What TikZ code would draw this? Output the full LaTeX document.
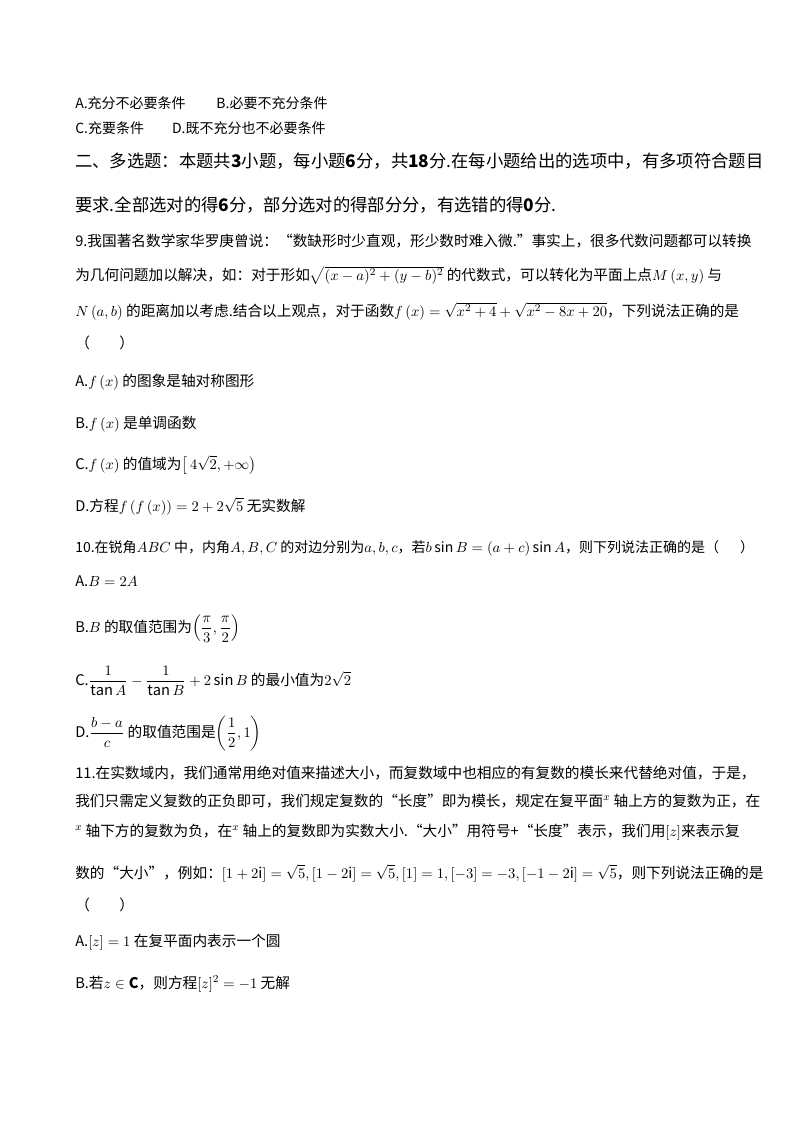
\documentclass[tikz,border=0pt]{standalone}
\usepackage{amsmath,amssymb}
\usepackage{fontspec}
\setmainfont{Noto Sans CJK SC}
\begin{document}
\begin{tikzpicture}[x=0.75pt,y=-0.75pt,
  t/.style={anchor=base west,inner sep=0pt,font=\fontsize{10.5pt}{12pt}\selectfont},
  h/.style={anchor=base west,inner sep=0pt,font=\fontsize{13pt}{15pt}\selectfont},
  q/.style={anchor=base west,inner sep=0pt,font=\fontsize{11pt}{13pt}\selectfont}]
\useasboundingbox (0,0) rectangle (800,1132);
\node[t] (l1) at (75,108) {A.充分不必要条件\hspace{2.2em}B.必要不充分条件};
\node[t] (l2) at (75,133) {C.充要条件\hspace{2em}D.既不充分也不必要条件};
\node[h] (l3) at (75,167) {二、多选题：本题共\textbf{3}小题，每小题\textbf{6}分，共\textbf{18}分.在每小题给出的选项中，有多项符合题目};
\node[h] (l4) at (75,211) {要求.全部选对的得\textbf{6}分，部分选对的得部分分，有选错的得\textbf{0}分.};
\node[q] (l5) at (75,246) {9.我国著名数学家华罗庚曾说：“数缺形时少直观，形少数时难入微.”事实上，很多代数问题都可以转换};
\node[q] (l6) at (75,280) {为几何问题加以解决，如：对于形如$\sqrt{(x-a)^2+(y-b)^2}$ 的代数式，可以转化为平面上点$M\left(x,y\right)$ 与};
\node[q] (l7) at (75,316) {$N\left(a,b\right)$ 的距离加以考虑.结合以上观点，对于函数$f\left(x\right)=\sqrt{x^2+4}+\sqrt{x^2-8x+20}$，下列说法正确的是};
\node[q] (l8) at (75,348) {（\hspace{2em}）};
\node[q] (a9) at (75,386) {A.$f\left(x\right)$ 的图象是轴对称图形};
\node[q] (b9) at (75,428) {B.$f\left(x\right)$ 是单调函数};
\node[q] (c9) at (75,469) {C.$f\left(x\right)$ 的值域为$\left[\,4\sqrt{2},+\infty\right)$};
\node[q] (d9) at (75,511) {D.方程$f\left(f\left(x\right)\right)=2+2\sqrt{5}$ 无实数解};
\node[t] (l10) at (75,552) {10.在锐角$ABC$ 中，内角$A,B,C$ 的对边分别为$a,b,c$，若$b\sin B=\left(a+c\right)\sin A$，则下列说法正确的是（\hspace{1.5em}）};
\node[q] (a10) at (75,586) {A.$B=2A$};
\node[q] (b10) at (75,632) {B.$B$ 的取值范围为$\left(\dfrac{\pi}{3},\dfrac{\pi}{2}\right)$};
\node[q] (c10) at (75,685) {C.$\dfrac{1}{\tan A}-\dfrac{1}{\tan B}+2\sin B$ 的最小值为$2\sqrt{2}$};
\node[q] (d10) at (75,737) {D.$\dfrac{b-a}{c}$ 的取值范围是$\left(\dfrac{1}{2},1\right)$};
\node[q] (l11) at (75,778) {11.在实数域内，我们通常用绝对值来描述大小，而复数域中也相应的有复数的模长来代替绝对值，于是，};
\node[q] (l12) at (75,806) {我们只需定义复数的正负即可，我们规定复数的“长度”即为模长，规定在复平面$^x$ 轴上方的复数为正，在};
\node[q] (l13) at (75,836) {$^x$ 轴下方的复数为负，在$^x$ 轴上的复数即为实数大小.“大小”用符号+“长度”表示，我们用$\left[z\right]$来表示复};
\node[q] (l14) at (75,878) {数的“大小”，例如：$[1+2\mathrm{i}]=\sqrt5,[1-2\mathrm{i}]=\sqrt5,[1]=1,[-3]=-3,[-1-2\mathrm{i}]=\sqrt5$，则下列说法正确的是};
\node[q] (l15) at (75,910) {（\hspace{2em}）};
\node[q] (a11) at (75,946) {A.$\left[z\right]=1$ 在复平面内表示一个圆};
\node[q] (b11) at (75,988) {B.若$z\in\mathbf{C}$，则方程$[z]^2=-1$ 无解};
\end{tikzpicture}
\end{document}
